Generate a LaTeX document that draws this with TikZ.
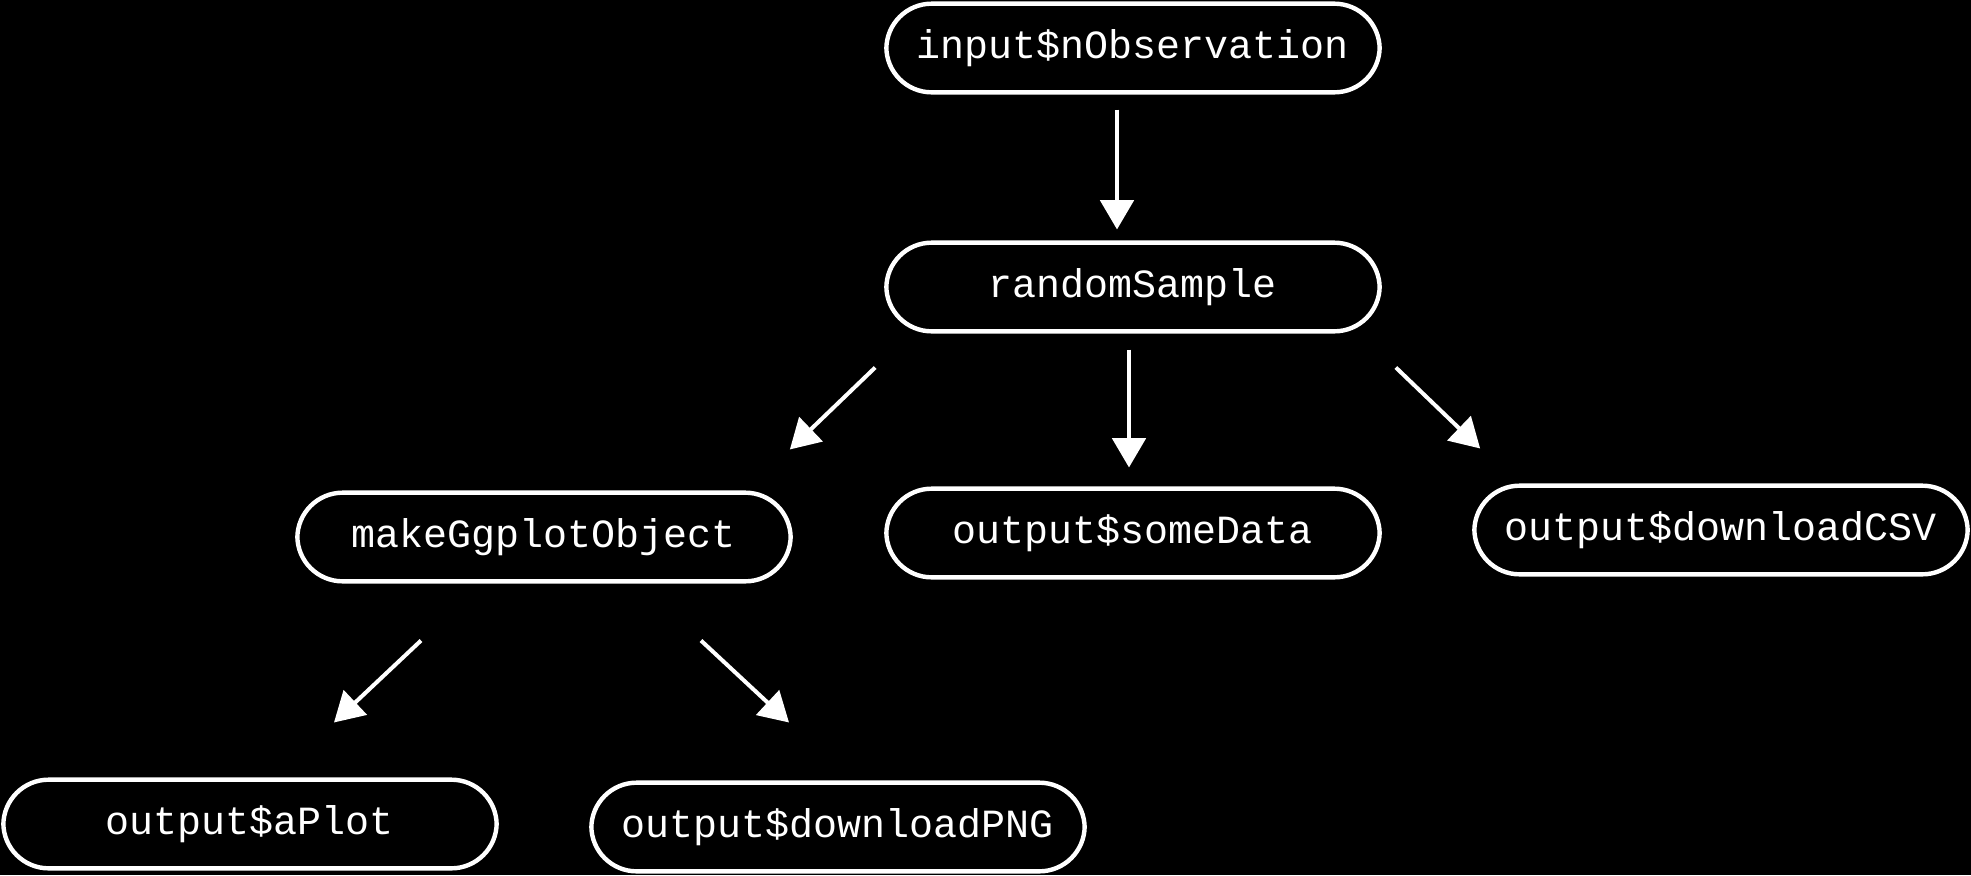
\documentclass[tikz,border=0pt]{standalone}
\usepackage{fontspec}
\setmonofont{Liberation Mono}
\usetikzlibrary{arrows.meta,calc}

\tikzset{
  nodo/.style={draw=white, line width=3.3pt, rounded corners=34pt, text=white,
    minimum width=370pt, minimum height=66.5pt, inner sep=0pt,
    font=\ttfamily\fontsize{30}{36}\selectfont},
  freccia/.style={draw=white, line width=3pt,
    -{Triangle[width=25pt,length=22pt]}}
}

\begin{document}
\begin{tikzpicture}[x=0.75pt,y=-0.75pt]
            % Sfondo
            \fill[black] (0,0) rectangle (1971,875);
            \useasboundingbox (0,0) rectangle (1971,875);

            % Nodi
            \node[nodo] (inp) at (1133,48) {input\$nObservation};
            \node[nodo] (rs)  at (1133,287) {randomSample};
            \node[nodo] (mg)  at (544,537) {makeGgplotObject};
            \node[nodo] (sd)  at (1133,533) {output\$someData};
            \node[nodo] (csv) at (1721,530) {output\$downloadCSV};
            \node[nodo] (ap)  at (250,824) {output\$aPlot};
            \node[nodo] (png) at (838,827) {output\$downloadPNG};

            % Frecce
            \draw[freccia] ($(inp.south)+(-16,15)$) -- ($(rs.north)+(-16,-11)$);
            \draw[freccia] ($(rs.south)+(-4,16)$) -- ($(sd.north)+(-4,-19)$);
            \draw[freccia] ($(rs.south west)+(-9,34)$) -- ($(mg.north east)+(-3,-41)$);
            \draw[freccia] ($(rs.south east)+(14,34)$) -- ($(csv.north west)+(8,-35)$);
            \draw[freccia] ($(mg.south)+(-123,57)$) -- ($(ap.north)+(84,-55)$);
            \draw[freccia] ($(mg.south)+(157,57)$) -- ($(png.north)+(-49,-58)$);
        \end{tikzpicture}
\end{document}
